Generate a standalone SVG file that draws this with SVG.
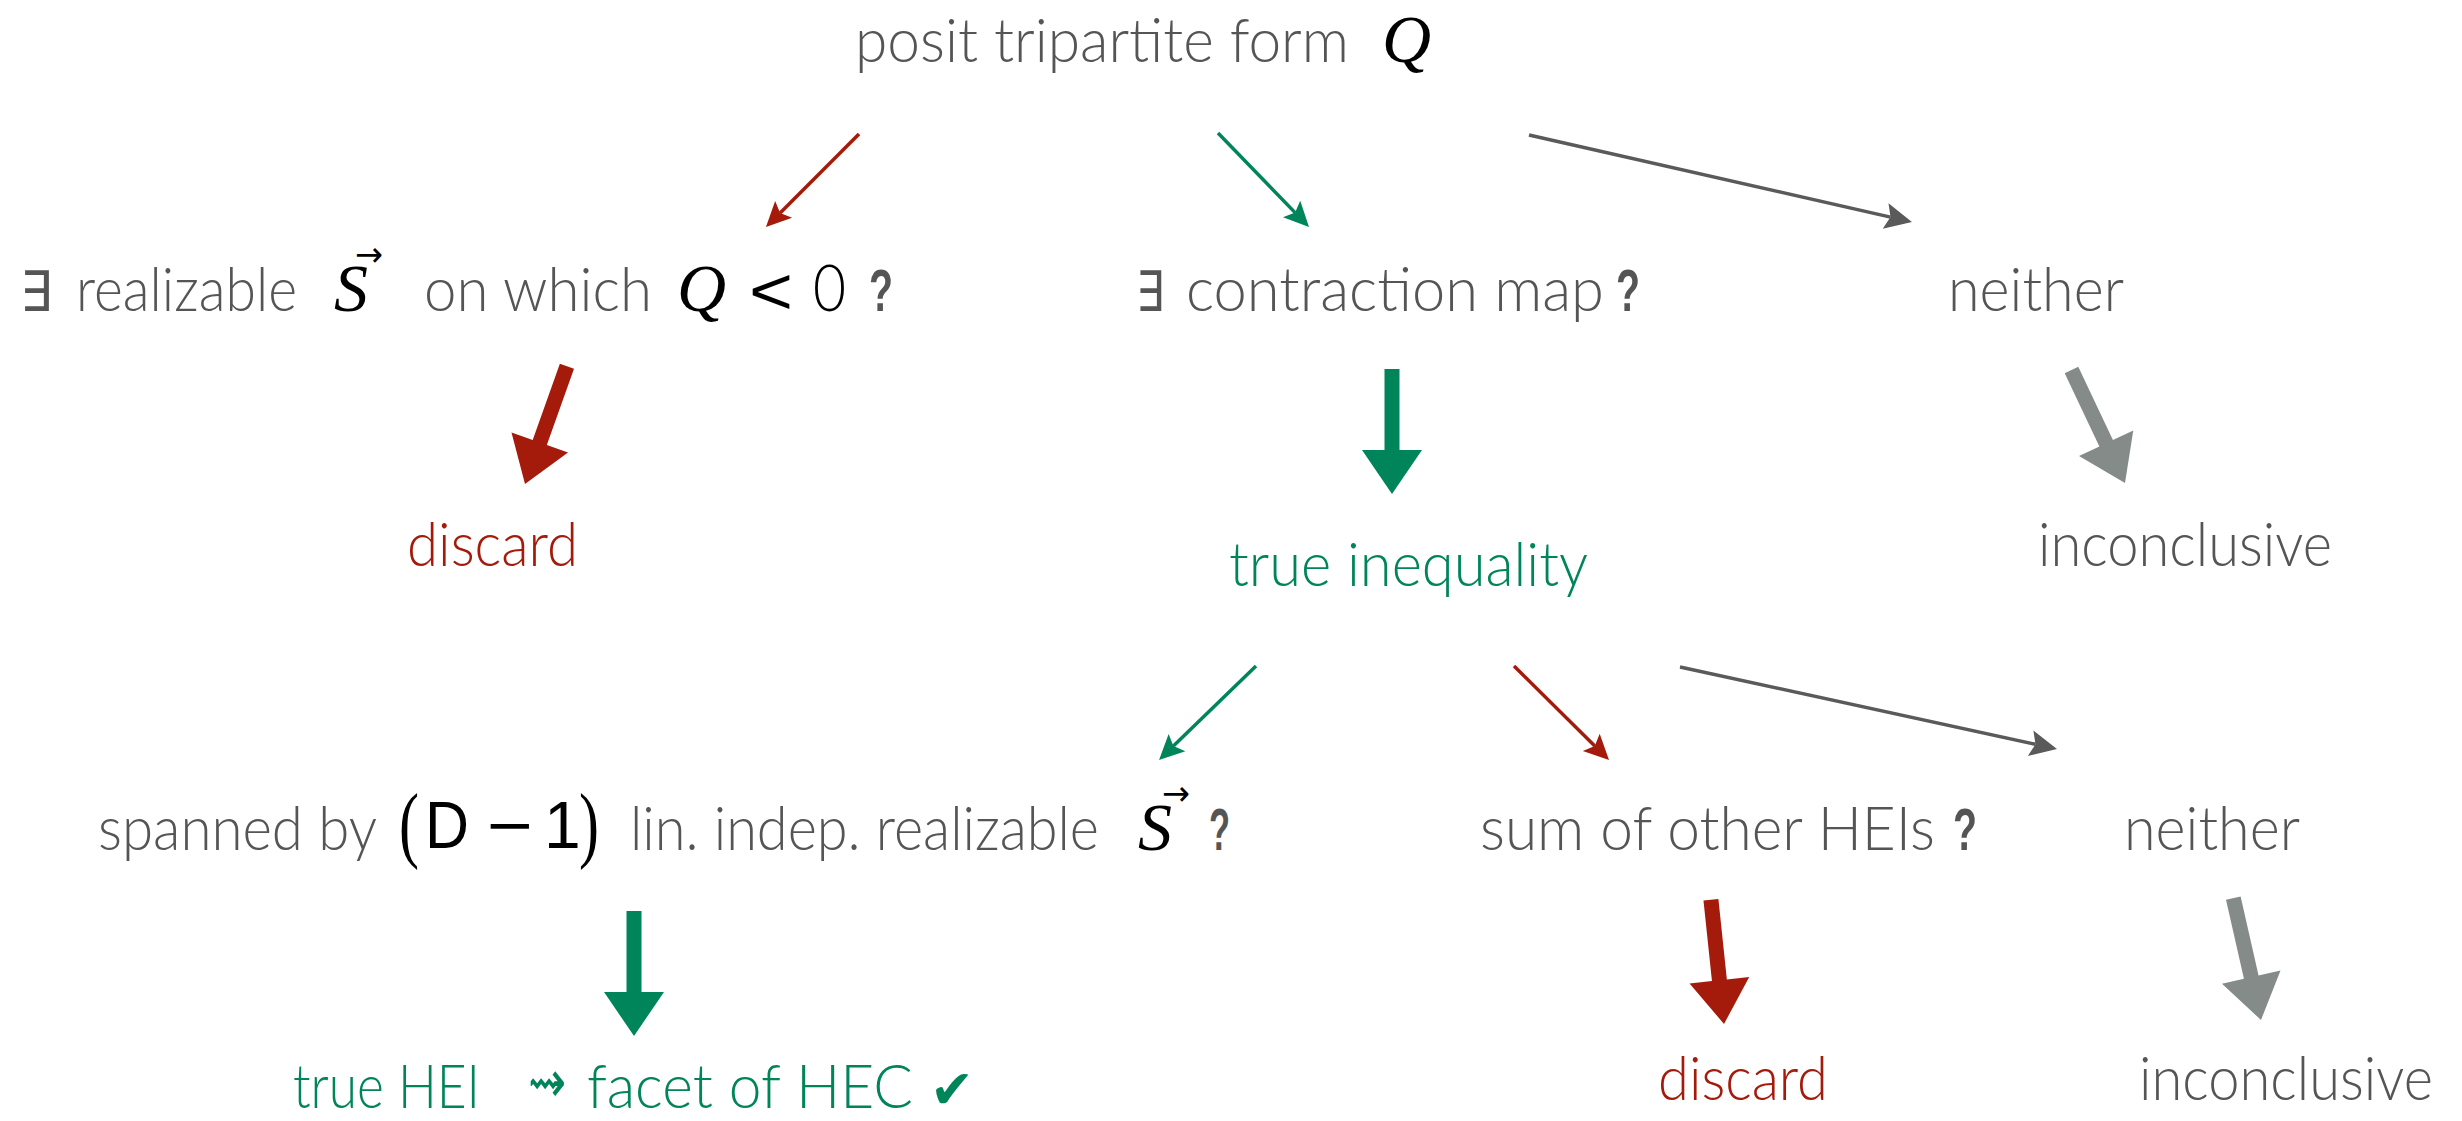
<svg xmlns="http://www.w3.org/2000/svg" width="2462" height="1121" viewBox="0 0 2462 1121">
<style>
.t{font-family:Lato,"Open Sans","Liberation Sans",sans-serif;font-weight:300;font-size:62px;fill:#555}
.red{fill:#A51B0B}
.grn{fill:#00855B}
.m{font-family:"Liberation Serif","Times New Roman",Times,serif;font-style:italic;font-weight:normal;font-size:68px;fill:#000}
.mr{font-family:Lato,"Liberation Sans",sans-serif;font-weight:300;font-size:66px;fill:#000}
.par{font-family:"Liberation Serif","Times New Roman",Times,serif;font-weight:normal;font-size:84px;fill:#000}
.ms{font-family:"Liberation Sans",Arial,sans-serif;font-size:66px;fill:#000}
.q{font-family:"Liberation Sans",Arial,sans-serif;font-weight:bold;font-size:60px;fill:#555}
.ex{font-family:"DejaVu Sans",sans-serif;font-size:56px;fill:#555}
.vec{font-family:"DejaVu Sans",sans-serif;font-size:34px;fill:#000}
.thin{fill:none;stroke-width:3.5}
</style>
<defs>
<marker id="ah-red" markerUnits="userSpaceOnUse" orient="auto" viewBox="-5 -20 40 40" markerWidth="40" markerHeight="40" refX="5" refY="0" overflow="visible"><path d="M0,-12 L25,0 L0,12 L5,0 Z" fill="#A51B0B"/></marker>
<marker id="ah-grn" markerUnits="userSpaceOnUse" orient="auto" viewBox="-5 -20 40 40" markerWidth="40" markerHeight="40" refX="5" refY="0" overflow="visible"><path d="M0,-12 L25,0 L0,12 L5,0 Z" fill="#00855B"/></marker>
<marker id="ah-gry" markerUnits="userSpaceOnUse" orient="auto" viewBox="-5 -20 40 40" markerWidth="40" markerHeight="40" refX="5" refY="0" overflow="visible"><path d="M0,-13 L27,0 L0,13 L5,0 Z" fill="#5A5A5A"/></marker>
<path id="thick" d="M0,0 L-44,-30 L-44,-7.5 L-125,-7.5 L-125,7.5 L-44,7.5 L-44,30 Z"/>
</defs>
<rect width="2462" height="1121" fill="#fff"/>

<g id="connectors">
<line class="thin" x1="859" y1="134" x2="780.1" y2="212.9" stroke="#A51B0B" marker-end="url(#ah-red)"/>
<line class="thin" x1="1218" y1="133" x2="1295.1" y2="212.6" stroke="#00855B" marker-end="url(#ah-grn)"/>
<line class="thin" x1="1529" y1="135" x2="1890.5" y2="217.1" stroke="#5A5A5A" stroke-width="4.5" marker-end="url(#ah-gry)"/>
<line class="thin" x1="1256" y1="666" x2="1173.4" y2="746.1" stroke="#00855B" marker-end="url(#ah-grn)"/>
<line class="thin" x1="1514" y1="666" x2="1594.8" y2="745.9" stroke="#A51B0B" marker-end="url(#ah-red)"/>
<line class="thin" x1="1680" y1="667" x2="2035.5" y2="744.3" stroke="#5A5A5A" stroke-width="4.5" marker-end="url(#ah-gry)"/>
<use href="#thick" transform="translate(525,484) rotate(109.6)" fill="#A51B0B"/>
<use href="#thick" transform="translate(1392,494) rotate(90)" fill="#00855B"/>
<use href="#thick" transform="translate(2125,483) rotate(64.65)" fill="#848B88"/>
<use href="#thick" transform="translate(634,1036) rotate(90)" fill="#00855B"/>
<use href="#thick" transform="translate(1724,1024) rotate(84)" fill="#A51B0B"/>
<use href="#thick" transform="translate(2261,1020) rotate(77.2)" fill="#848B88"/>
</g>

<g id="posit">
<text class="t" x="855" y="62" textLength="494" lengthAdjust="spacingAndGlyphs">posit tripartite form</text>
<text class="m" x="1382" y="62">Q</text>
</g>

<g id="realizable-q">
<text class="ex" x="20" y="311" textLength="32" lengthAdjust="spacingAndGlyphs">∃</text>
<text class="t" x="76" y="311" textLength="221" lengthAdjust="spacingAndGlyphs">realizable</text>
<text class="m" x="334" y="311">S</text>
<text class="vec" x="355" y="266" textLength="28" lengthAdjust="spacingAndGlyphs">→</text>
<text class="t" x="424" y="311" textLength="228" lengthAdjust="spacingAndGlyphs">on which</text>
<text class="m" x="677" y="311">Q</text>
<text class="ms" x="749" y="314" font-size="72" textLength="44" lengthAdjust="spacingAndGlyphs">&lt;</text>
<text class="mr" x="813" y="311" font-size="70" textLength="33" lengthAdjust="spacingAndGlyphs">0</text>
<text class="q" x="869" y="311" textLength="24" lengthAdjust="spacingAndGlyphs">?</text>
</g>

<g id="contraction-q">
<text class="ex" x="1136" y="311" textLength="28" lengthAdjust="spacingAndGlyphs">∃</text>
<text class="t" x="1186" y="311" textLength="418" lengthAdjust="spacingAndGlyphs">contraction map</text>
<text class="q" x="1616" y="311" textLength="24" lengthAdjust="spacingAndGlyphs">?</text>
</g>

<g id="neither-1">
<text class="t" x="1948" y="311" textLength="176" lengthAdjust="spacingAndGlyphs">neither</text>
</g>

<g id="discard-1">
<text class="t red" x="407" y="566" textLength="171" lengthAdjust="spacingAndGlyphs">discard</text>
</g>

<g id="true-inequality">
<text class="t grn" x="1229" y="586" textLength="359" lengthAdjust="spacingAndGlyphs">true inequality</text>
</g>

<g id="inconclusive-1">
<text class="t" x="2038" y="566" textLength="294" lengthAdjust="spacingAndGlyphs">inconclusive</text>
</g>

<g id="spanned-q">
<text class="t" x="98" y="850" textLength="279" lengthAdjust="spacingAndGlyphs">spanned by</text>
<text class="par" x="399" y="852" textLength="20" lengthAdjust="spacingAndGlyphs">(</text>
<text class="ms" x="425" y="848" textLength="44" lengthAdjust="spacingAndGlyphs">D</text>
<text class="ms" x="487" y="848" textLength="46" lengthAdjust="spacingAndGlyphs">−</text>
<text class="ms" x="544" y="848">1</text>
<text class="par" x="579" y="852" textLength="20" lengthAdjust="spacingAndGlyphs">)</text>
<text class="t" x="630" y="850" textLength="469" lengthAdjust="spacingAndGlyphs">lin. indep. realizable</text>
<text class="m" x="1138" y="850">S</text>
<text class="vec" x="1162" y="805" textLength="28" lengthAdjust="spacingAndGlyphs">→</text>
<text class="q" x="1209" y="850" textLength="21" lengthAdjust="spacingAndGlyphs">?</text>
</g>

<g id="sum-q">
<text class="t" x="1480" y="850" textLength="455" lengthAdjust="spacingAndGlyphs">sum of other HEIs</text>
<text class="q" x="1953" y="850" textLength="24" lengthAdjust="spacingAndGlyphs">?</text>
</g>

<g id="neither-2">
<text class="t" x="2124" y="850" textLength="176" lengthAdjust="spacingAndGlyphs">neither</text>
</g>

<g id="true-hei">
<text class="t grn" x="293" y="1108" textLength="187" lengthAdjust="spacingAndGlyphs">true HEI</text>
<text class="grn" x="528" y="1102" font-family="DejaVu Sans, sans-serif" font-size="58" textLength="38" lengthAdjust="spacingAndGlyphs">⇝</text>
<text class="t grn" x="587" y="1108" textLength="326" lengthAdjust="spacingAndGlyphs">facet of HEC</text>
<text class="grn" x="930" y="1108" font-family="DejaVu Sans, sans-serif" font-size="54" textLength="44" lengthAdjust="spacingAndGlyphs">✔</text>
</g>

<g id="discard-2">
<text class="t red" x="1658" y="1100" textLength="170" lengthAdjust="spacingAndGlyphs">discard</text>
</g>

<g id="inconclusive-2">
<text class="t" x="2139" y="1100" textLength="294" lengthAdjust="spacingAndGlyphs">inconclusive</text>
</g>
</svg>
